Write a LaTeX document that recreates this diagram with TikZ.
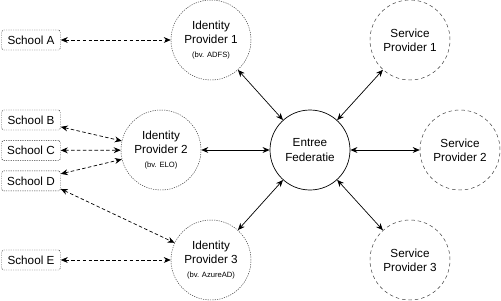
\documentclass[tikz,border=0pt]{standalone}
\usepackage{fontspec}
\setmainfont{Liberation Sans}
\usetikzlibrary{arrows.meta, positioning}

\newcommand{\bvfont}{\fontsize{6.5}{8}\selectfont}

\begin{document}
\begin{tikzpicture}[
  font = \fontsize{10}{12}\selectfont,
  node distance = 0.3cm,
  school/.style = {
    rectangle, rounded corners=1.5pt,
    draw=black!80, dash pattern=on 1pt off 1pt,
    minimum width=1.77cm, minimum height=0.6cm,
    inner sep=1pt
  },
  idp/.style = {
    circle, draw=black!80, dash pattern=on 1pt off 1pt,
    minimum size=2.4cm, inner sep=0pt, align=center
  },
  fed/.style = {
    circle, draw=black, line width=0.6pt,
    minimum size=2.4cm, inner sep=0pt, align=center
  },
  sp/.style = {
    circle, draw=black!80, dash pattern=on 3pt off 2.5pt,
    minimum size=2.4cm, inner sep=0pt, align=center
  },
  arr/.style = {{Stealth[length=6pt, width=5pt]}-{Stealth[length=6pt, width=5pt]}, black, line width=0.6pt},
  darr/.style = {arr, dash pattern=on 3pt off 2pt}
]
\useasboundingbox (0,0) rectangle (15.03,-9.03);

\node[fed] (entree) at (9.3,-4.5) {Entree\\Federatie};

\node[idp] (idp1) at (6.33,-1.2) {Identity\\Provider 1\\{\bvfont (bv. ADFS)}};
\node[idp] (idp2) at (4.83,-4.5) {Identity\\Provider 2\\{\bvfont (bv. ELO)}};
\node[idp] (idp3) at (6.33,-7.8) {Identity\\Provider 3\\{\bvfont (bv. AzureAD)}};

\node[sp] (sp1) at (12.3,-1.2) {Service\\Provider 1};
\node[sp] (sp2) at (13.8,-4.5) {Service\\Provider 2};
\node[sp] (sp3) at (12.3,-7.8) {Service\\Provider 3};

\node[school] (schoolA) at (0.93,-1.2) {School A};
\node[school] (schoolB) at (0.93,-3.6) {School B};
\node[school, below=of schoolB] (schoolC) {School C};
\node[school, below=of schoolC] (schoolD) {School D};
\node[school] (schoolE) at (0.93,-7.8) {School E};

\draw[darr] (schoolA) -- (idp1);
\draw[darr] (schoolB) -- (idp2);
\draw[darr] (schoolC) -- (idp2);
\draw[darr] (schoolD) -- (idp2);
\draw[darr] ([yshift=-0.24cm]schoolD.east) -- (idp3);
\draw[darr] (schoolE) -- (idp3);

\draw[arr] (idp1) -- (entree);
\draw[arr] (idp2) -- (entree);
\draw[arr] (idp3) -- (entree);
\draw[arr] (entree) -- (sp1);
\draw[arr] (entree) -- (sp2);
\draw[arr] (entree) -- (sp3);
\end{tikzpicture}
\end{document}
